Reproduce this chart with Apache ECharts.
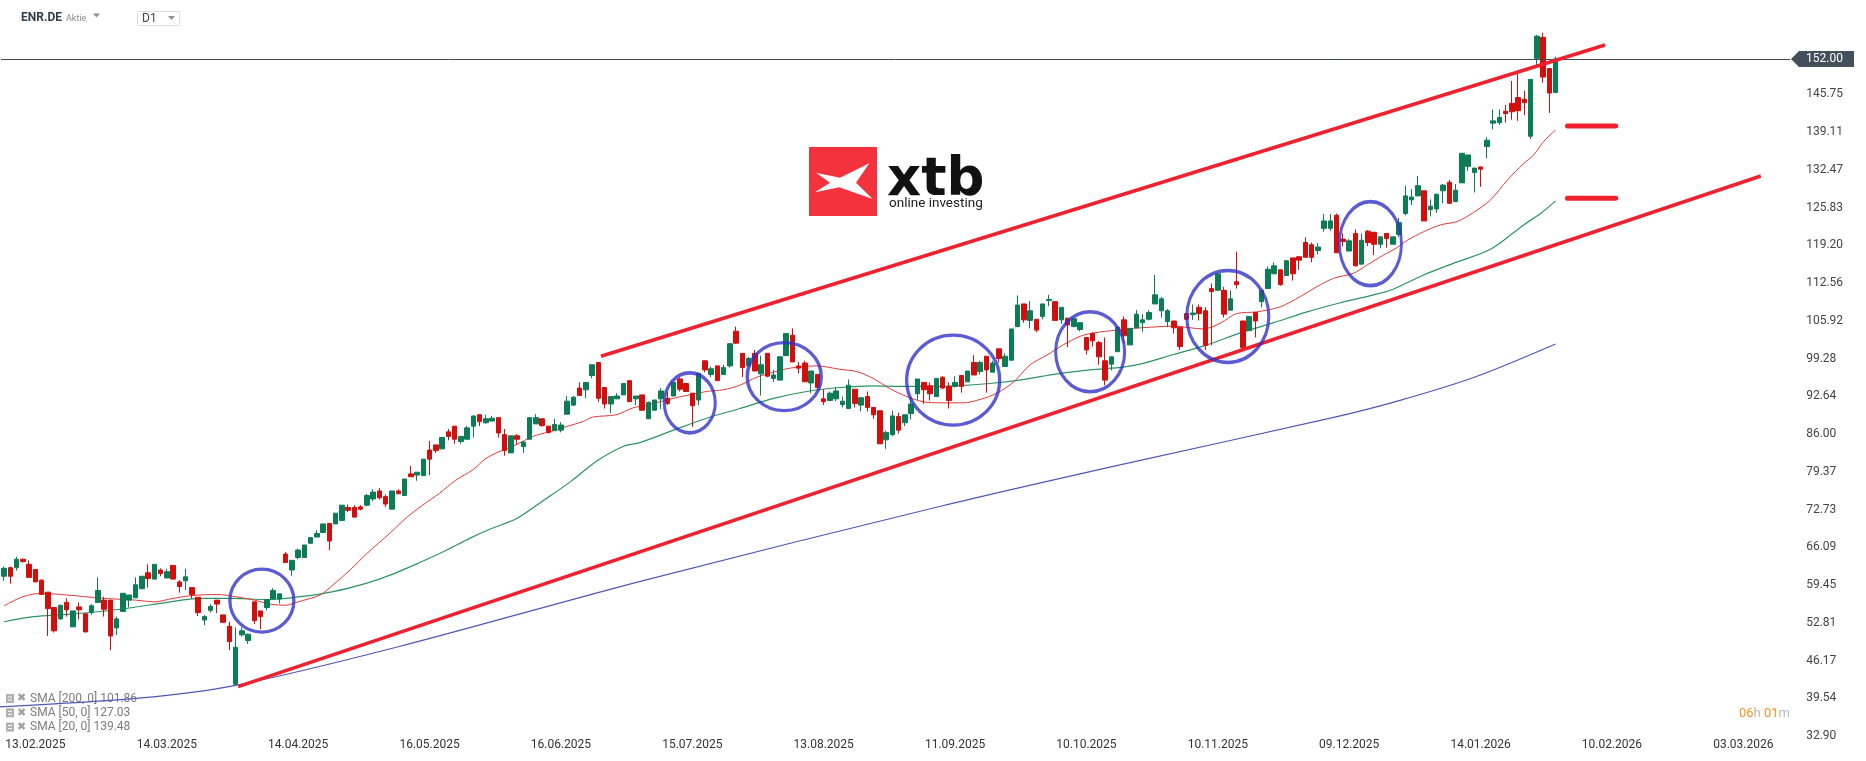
<!DOCTYPE html>
<html>
<head>
<meta charset="utf-8">
<title>ENR.DE D1</title>
<script src="https://cdn.jsdelivr.net/npm/echarts@6.0.0/dist/echarts.min.js"></script>
<style>
html, body { margin: 0; padding: 0; background: #fff; }
#chart { width: 1866px; height: 761px; }
</style>
</head>
<body>
<div id="chart"></div>
<script>
// daily candles, [open, high, low, close], first one is 06.02.2025
const candles = [
  [61.0,62.7,60.2,62.4],[62.5,62.7,59.7,61.0],[62.5,64.4,62.0,64.0],[64.0,64.1,63.4,63.6],[63.1,63.8,60.8,60.8],
  [62.2,62.2,60.0,60.0],[60.3,60.5,57.8,57.8],[58.2,58.2,50.5,55.3],[55.5,55.5,51.1,51.4],[53.5,55.9,53.3,55.9],
  [56.4,57.1,53.9,55.1],[52.1,54.9,52.1,54.9],[55.6,56.4,53.4,55.1],[54.4,54.4,51.2,51.2],[54.6,56.1,54.2,55.8],
  [56.4,60.8,56.4,58.5],[56.8,57.4,53.9,55.2],[56.8,56.8,48.0,50.5],[51.9,53.9,50.7,53.5],[54.8,58.0,54.8,58.0],
  [56.8,57.7,55.5,57.7],[57.2,60.8,57.2,59.5],[58.8,61.0,58.8,61.0],[61.6,63.1,59.0,60.6],[60.5,63.1,60.5,63.1],
  [62.1,62.4,61.0,61.5],[60.7,62.3,60.7,61.8],[62.9,62.9,60.5,60.5],[60.0,60.3,58.1,59.2],[60.2,62.3,58.6,60.9],
  [59.0,59.0,57.1,57.8],[57.3,57.3,54.0,54.6],[53.3,54.2,52.4,53.9],[55.0,56.1,54.6,55.7],[56.8,56.8,54.5,56.1],
  [54.2,54.2,52.8,52.9],[52.2,53.0,48.0,49.5],[42.0,52.0,41.9,48.5],[50.7,52.0,50.4,51.4],[49.7,50.9,49.1,50.8],
  [56.5,56.5,52.6,53.2],[54.9,54.9,51.7,53.9],[55.5,56.9,55.0,56.9],[57.0,58.9,57.0,58.5],[57.0,57.9,56.2,57.9],
  [64.9,65.3,63.4,63.4],[62.1,63.8,61.1,63.8],[64.3,65.9,64.0,65.6],[64.3,66.5,64.3,66.5],[66.8,67.9,66.8,67.8],
  [67.9,69.1,67.9,68.5],[68.7,70.2,68.7,70.2],[70.3,70.3,65.6,67.2],[70.2,72.1,70.2,72.1],[70.8,73.5,70.8,73.5],
  [73.1,73.6,72.3,72.6],[73.1,73.5,71.4,71.4],[73.2,73.5,72.6,72.8],[73.5,75.5,73.3,75.2],[74.6,76.3,74.2,75.8],
  [76.0,76.5,74.5,74.8],[75.0,75.4,73.2,73.7],[72.8,76.0,72.8,76.0],[76.0,76.3,75.5,75.5],[75.2,78.1,75.2,78.1],
  [79.0,80.4,78.5,78.5],[78.8,79.3,77.8,79.3],[78.7,81.6,78.7,81.6],[83.2,84.8,78.8,81.6],[84.1,84.1,82.7,83.1],
  [83.4,85.4,83.4,85.4],[86.4,86.9,84.9,85.6],[87.4,87.4,84.3,85.1],[84.7,85.7,84.3,85.6],[85.1,87.4,85.1,87.1],
  [87.4,89.2,85.4,89.2],[89.4,89.5,87.4,88.2],[88.0,89.4,87.8,88.7],[88.3,89.2,88.3,88.8],[88.9,88.9,85.4,86.2],
  [85.9,86.9,82.2,83.1],[82.7,85.7,82.7,85.7],[85.7,86.0,84.1,85.1],[83.8,84.6,82.7,84.6],[85.1,88.9,85.1,88.9],
  [87.8,89.5,87.8,88.9],[88.7,88.7,87.3,87.5],[87.4,87.4,86.1,86.3],[86.6,88.7,86.6,87.7],[86.7,88.1,86.3,87.6],
  [89.5,92.7,89.5,91.8],[91.1,92.7,90.9,92.5],[94.1,95.1,92.8,92.8],[93.8,95.1,92.3,95.1],[96.3,98.2,95.8,98.2],
  [98.6,98.6,91.7,92.3],[94.2,94.2,90.5,91.3],[91.3,92.6,89.7,92.6],[92.2,93.2,92.2,92.7],[92.9,94.9,92.9,94.9],
  [95.4,95.4,91.7,91.7],[92.2,92.7,91.1,92.7],[92.9,92.9,90.1,90.2],[88.7,91.7,88.7,91.6],[90.2,92.0,90.2,92.0],
  [92.2,94.1,90.4,93.6],[92.3,93.5,91.1,91.4],[92.7,95.2,92.7,95.1],[95.7,96.0,93.5,93.9],[94.9,94.9,93.5,93.5],
  [93.2,93.2,87.3,91.0],[92.0,96.7,91.1,96.7],[98.9,98.9,96.9,97.3],[96.5,97.9,96.0,97.5],[98.0,98.0,95.4,95.4],
  [96.5,98.2,96.5,97.7],[98.0,102.0,97.7,101.9],[104.1,104.9,101.9,102.0],[100.2,100.2,96.0,97.7],[98.0,99.6,97.9,99.3],
  [100.2,100.8,97.1,97.1],[96.6,99.8,92.8,98.2],[100.2,100.2,96.0,96.2],[95.8,97.3,95.2,96.4],[95.5,99.7,95.5,99.6],
  [99.8,103.8,99.8,103.7],[103.4,104.6,98.7,98.7],[98.0,98.7,96.7,97.6],[98.5,98.9,95.2,95.2],[95.0,97.1,93.2,97.1],
  [96.5,96.5,93.8,94.2],[92.2,93.9,91.1,91.7],[91.9,93.5,91.9,93.2],[92.2,94.3,91.8,93.6],[91.2,92.6,90.7,91.8],
  [90.5,95.6,90.5,94.6],[93.9,93.9,90.7,91.4],[91.1,92.4,90.0,92.4],[92.6,93.5,90.0,90.7],[90.7,90.7,88.7,89.4],
  [90.1,90.1,84.3,84.3],[85.0,86.6,83.4,86.3],[85.9,90.1,85.6,89.2],[89.1,89.8,86.1,86.7],[88.0,89.4,87.4,89.4],
  [89.6,92.5,88.6,91.3],[93.1,95.7,92.0,95.7],[95.1,95.1,91.3,93.8],[94.5,95.1,91.9,93.1],[92.6,95.8,92.6,95.8],
  [96.0,96.2,93.9,94.1],[94.4,95.1,90.5,91.9],[94.4,96.2,94.2,95.1],[96.3,96.3,93.3,94.4],[95.2,97.1,95.2,97.1],
  [98.6,99.9,96.4,96.4],[97.0,98.9,96.5,98.6],[99.7,99.7,93.3,97.3],[96.9,98.9,96.9,98.5],[101.0,101.0,98.6,99.3],
  [97.9,100.2,97.9,99.7],[99.0,104.5,99.0,104.5],[104.9,110.4,104.9,108.7],[108.9,108.9,105.6,106.1],[106.0,109.4,104.6,107.7],
  [106.2,106.2,103.9,104.3],[106.7,108.9,106.2,108.9],[109.5,110.5,108.5,109.7],[109.3,109.3,106.0,106.0],[106.1,108.3,105.4,108.3],
  [106.4,106.4,101.3,105.2],[104.9,106.4,104.9,106.3],[104.4,105.6,104.1,105.6],[103.0,103.0,100.0,100.8],[103.7,103.9,101.4,102.4],
  [102.1,102.4,98.2,99.6],[98.9,103.0,94.6,95.5],[98.3,99.6,97.2,99.6],[100.5,104.8,100.5,104.8],[106.1,106.7,102.0,103.3],
  [101.7,104.6,101.7,104.6],[104.7,107.8,104.7,107.1],[105.6,107.1,104.0,106.1],[106.2,107.8,106.0,107.4],[108.9,114.0,108.9,110.5],
  [107.7,110.1,106.5,109.8],[105.8,108.0,104.8,107.7],[105.9,105.9,103.7,104.7],[104.8,104.8,100.8,101.4],[107.2,107.2,106.2,106.2],
  [107.0,108.8,106.1,107.3],[108.3,108.8,106.0,107.2],[107.7,108.3,100.8,101.6],[111.6,112.5,101.6,111.1],[111.3,114.2,111.3,114.2],
  [111.3,111.9,106.5,107.1],[107.8,111.3,107.8,109.8],[112.8,118.1,111.6,112.3],[105.9,105.9,101.0,101.2],[104.2,106.7,104.2,106.7],
  [107.4,107.4,103.0,105.9],[109.3,111.3,108.3,111.3],[111.6,115.5,111.6,115.0],[114.2,116.2,114.2,115.6],[114.9,114.9,112.1,112.3],
  [113.9,116.5,113.9,116.5],[117.0,117.0,113.0,114.2],[117.2,117.2,114.9,116.6],[119.7,120.6,117.1,117.1],[119.3,119.7,116.2,117.1],
  [118.3,119.6,117.6,118.9],[122.2,124.7,121.6,123.5],[122.2,124.7,121.7,123.5],[124.5,124.8,117.9,117.9],[120.3,121.3,119.0,119.9],
  [118.2,120.3,118.2,120.0],[121.3,122.0,115.5,115.6],[115.9,121.3,115.9,120.1],[121.7,121.9,119.1,119.7],[121.5,121.5,117.5,119.4],
  [119.4,120.7,118.7,120.7],[121.3,121.3,118.8,120.4],[119.4,120.7,119.4,120.7],[121.1,124.0,120.7,123.2],[124.8,129.7,124.5,127.9],
  [127.2,129.1,126.3,127.7],[127.9,131.4,127.9,129.7],[128.8,128.8,123.5,123.5],[125.5,127.3,124.3,126.1],[125.6,128.2,124.9,128.2],
  [128.8,130.0,126.6,129.8],[130.3,130.7,126.6,126.6],[126.9,130.0,126.8,128.9],[130.2,135.4,130.2,135.4],[133.1,135.1,132.3,135.1],
  [132.0,132.8,128.5,132.8],[133.0,133.0,129.5,132.6],[136.6,138.2,134.5,137.7],[140.7,143.1,139.6,141.1],[140.8,143.1,140.4,141.7],
  [142.8,143.9,140.8,142.4],[144.2,148.1,141.3,142.7],[145.2,149.6,141.1,142.9],[144.9,146.4,142.1,144.3],[138.4,148.4,137.9,148.4],
  [152.1,156.2,150.9,156.0],[155.8,156.6,147.8,148.8],[150.3,150.3,142.5,146.0],[146.1,152.4,146.1,152.0]
];

const lastPrice = 152.00;

// moving averages as [candle index, value]
const sma20 = [[0,55.8],[3,57.4],[6,58.0],[10,57.7],[13,57.4],[16,57.1],[21,56.8],[24,56.5],[27,57.1],[30,57.6],
  [34,57.8],[37,57.4],[40,56.8],[42.5,56.1],[45,55.9],[47,56.5],[50.5,57.7],[52.6,59.5],[55.3,62.1],[58,65.0],
  [61.7,68.6],[64.3,71.3],[66.9,73.5],[69.6,75.6],[72.2,77.9],[74.9,79.7],[77,81.7],[79.1,82.9],[81.8,84.1],
  [84.5,85.6],[87.1,86.4],[89.8,87.3],[92.5,88.2],[94.1,89.0],[97.8,89.4],[100.5,90.6],[103.1,91.2],[107,92.3],
  [112.3,93.5],[115,93.8],[117.6,94.6],[120.3,96.0],[123,96.9],[125.6,97.6],[129.9,98.0],[133.6,97.4],[136.3,97.0],
  [138.9,95.8],[141.6,94.0],[144.3,92.6],[146.9,91.7],[149.6,91.5],[153.4,91.5],[156,92.1],[158.7,93.2],[161.4,95.2],
  [164,98.2],[166.7,99.9],[169.3,101.7],[172,103.2],[174.2,103.8],[177.9,104.3],[180.5,104.6],[183.2,104.8],
  [186.9,105.0],[191.7,104.5],[194.4,105.5],[197,107.2],[200.2,107.5],[204,108.4],[207.2,110.2],[209.8,111.9],
  [212.5,113.4],[215.7,114.3],[217.8,115.7],[220.5,117.5],[222.5,118.7],[224.3,120.1],[226.9,121.6],[229.6,122.8],
  [232.3,123.4],[234.9,125.0],[237.6,127.2],[240.3,130.7],[242.9,133.6],[244.5,135.1],[246.1,137.5],[248,139.48]];
const sma50 = [[0,53.0],[4.7,53.9],[10,54.3],[15.4,54.8],[20.6,55.5],[26,56.4],[31.3,57.1],[36.6,57.1],[42,56.9],
  [47.3,57.4],[52.6,58.3],[58,59.8],[61.7,61.2],[66,63.2],[70.2,65.3],[74.5,67.7],[77.7,69.3],[82,71.2],[86.3,74.4],
  [90.5,77.6],[94.8,81.3],[99.1,83.9],[101.6,84.5],[107,86.7],[112.3,88.8],[117.6,90.5],[123,92.3],[128.3,93.5],
  [133.6,94.2],[138.9,94.5],[143.2,94.4],[146.9,94.4],[152.3,94.5],[157.6,94.9],[162.9,95.6],[168.3,96.6],
  [173.6,97.3],[178.9,97.8],[181.6,98.3],[186.9,100.0],[192.3,101.7],[197.6,103.8],[202.9,105.6],[208.3,107.5],
  [213.6,109.1],[218.9,110.5],[221.6,111.3],[226.9,114.0],[232.3,116.3],[237.6,118.5],[242.9,122.8],[245.6,124.8],
  [248,127.03]];
const sma200 = [[-1,38.0],[22,39.6],[37,41.8],[63,48.6],[102,60.2],[150,73.4],[180,81.0],[212,88.8],[223,91.9],
  [235,96.0],[248,101.86]];

const smaLegend = ['SMA [200, 0] 101.86', 'SMA [50, 0] 127.03', 'SMA [20, 0] 139.48'];

// hand-drawn channel, target marks and circles
const upperTrend = [[95.4, 99.7], [255.9, 154.45]];
const lowerTrend = [[37.4, 41.6], [280.8, 131.4]];
const targetLevels = [140.2, 127.5];
const targetSpan = [249.9, 257.6];
const circleCenters = [[41.2,56.7],[109.6,91.5],[124.7,96.1],[151.7,95.5],[173.6,100.5],[195.6,106.7],[218.4,119.5]];
const circleSizes = [[64,63],[51,60],[74,68],[93,90],[69,80],[82,92],[62,84]];

const xTickLabels = ['13.02.2025','14.03.2025','14.04.2025','16.05.2025','16.06.2025','15.07.2025','13.08.2025',
  '11.09.2025','10.10.2025','10.11.2025','09.12.2025','14.01.2026','10.02.2026','03.03.2026'];
const yTickLabels = ['32.90','39.54','46.17','52.81','59.45','66.09','72.73','79.37','86.00','92.64','99.28',
  '105.92','112.56','119.20','125.83','132.47','139.11','145.75'];

const SLOTS = 286;        // visible candle slots incl. empty future area
const FIRST_LABEL = 5;    // slot of the first date label
const LABEL_STEP = 21;

const UP = '#0b7d56', DOWN = '#d40d0d', TREND = '#f0212e';

const categories = Array.from({ length: SLOTS }, (_, i) => {
  const k = (i - FIRST_LABEL) / LABEL_STEP;
  return (i >= FIRST_LABEL && Number.isInteger(k) && xTickLabels[k]) ? xTickLabels[k] : '';
});

const chart = echarts.init(document.getElementById('chart'));

const smaSeries = (data, color, width) => ({
  type: 'line', xAxisIndex: 1, data, smooth: 0.3, showSymbol: false, silent: true, z: 1,
  lineStyle: { color, width }
});
const trendSeries = data => ({
  type: 'line', xAxisIndex: 1, data, showSymbol: false, silent: true, z: 5,
  lineStyle: { color: TREND, width: 3.5 }
});

chart.setOption({
  animation: false,
  backgroundColor: '#fff',
  grid: { left: 1, right: 75.8, top: 0, bottom: 25 },
  xAxis: [{
    type: 'category',
    data: categories,
    boundaryGap: true,
    axisLine: { show: false },
    axisTick: { show: false },
    splitLine: { show: false },
    axisLabel: { interval: 0, margin: 3, color: '#333', fontSize: 12, fontFamily: 'Roboto' }
  }, {
    type: 'value', min: -0.5, max: SLOTS - 0.5, show: false
  }],
  yAxis: {
    type: 'value',
    position: 'right',
    min: 32.90,
    max: 162.36,
    interval: 6.638,
    axisLine: { show: false },
    axisTick: { show: false },
    splitLine: { show: false },
    axisLabel: {
      margin: 16, color: '#444', fontSize: 12, fontFamily: 'Roboto',
      formatter: v => yTickLabels.find(t => Math.abs(parseFloat(t) - v) < 0.05) || ''
    }
  },
  series: [
    smaSeries(sma200, '#4f58b8', 1.2),
    smaSeries(sma50, '#2b9467', 1.2),
    smaSeries(sma20, '#e23a3a', 1),
    {
      type: 'candlestick',
      data: candles.map(c => [c[0], c[3], c[2], c[1]]),
      barWidth: 5,
      z: 3,
      itemStyle: { color: UP, color0: DOWN, borderColor: UP, borderColor0: DOWN, borderWidth: 1 },
      markLine: {
        silent: true, symbol: ['none', 'none'], label: { show: false },
        lineStyle: { color: '#3f4d59', width: 1, type: 'solid' },
        data: [{ yAxis: lastPrice }]
      }
    },
    trendSeries(upperTrend),
    trendSeries(lowerTrend),
    ...targetLevels.map(v => ({
      type: 'line', xAxisIndex: 1, showSymbol: false, silent: true, z: 5,
      data: [[targetSpan[0], v], [targetSpan[1], v]],
      lineStyle: { color: TREND, width: 5, cap: 'round' }
    })),
    {
      type: 'scatter', xAxisIndex: 1, silent: true, z: 6,
      data: circleCenters.map((c, i) => ({ value: c, symbolSize: circleSizes[i] })),
      symbol: 'circle',
      itemStyle: { color: 'rgba(0,0,0,0)', borderColor: '#3232c8', borderWidth: 3.3 }
    }
  ]
});

// chrome: header, logo, price tag, timer, indicator list
const py = chart.convertToPixel({ yAxisIndex: 0 }, lastPrice);
const tri = (x, y, w, h, fill) => ({ type: 'polygon', shape: { points: [[x, y], [x + w, y], [x + w / 2, y + h]] }, style: { fill } });

const legendRows = smaLegend.map((t, i) => {
  const y = 698.5 + i * 14.3;
  return {
    type: 'group', children: [
      { type: 'rect', shape: { x: 6, y: y - 4.5, width: 8, height: 9 }, style: { fill: '#b0b0b0' } },
      { type: 'rect', shape: { x: 8, y: y - 2, width: 4, height: 1 }, style: { fill: '#fff' } },
      { type: 'rect', shape: { x: 8, y: y + 1, width: 4, height: 1 }, style: { fill: '#fff' } },
      { type: 'text', style: { text: '✖', x: 17, y, fill: '#a0a0a0', fontSize: 11, fontFamily: 'DejaVu Sans', verticalAlign: 'middle' } },
      { type: 'text', style: { text: t, x: 30, y, fill: '#7c7c7c', fontSize: 12, fontFamily: 'Roboto', verticalAlign: 'middle' } }
    ]
  };
});

chart.setOption({
  graphic: [
    { type: 'text', style: { text: 'ENR.DE', x: 21, y: 18, fill: '#2f3e4c', fontSize: 12, fontWeight: 'bold', fontFamily: 'Roboto', verticalAlign: 'middle' } },
    { type: 'text', style: { text: 'Aktie', x: 66, y: 19, fill: '#8a8a8a', fontSize: 9, fontFamily: 'Roboto', verticalAlign: 'middle' } },
    tri(93, 13.5, 7, 4, '#8f8f8f'),
    { type: 'rect', shape: { x: 137.5, y: 11.5, width: 42, height: 14, r: 1 }, style: { fill: '#fff', stroke: '#dcdcdc', lineWidth: 1 } },
    { type: 'text', style: { text: 'D1', x: 142, y: 19, fill: '#444', fontSize: 12, fontFamily: 'Roboto', verticalAlign: 'middle' } },
    tri(168, 16, 7, 4, '#8f8f8f'),

    { type: 'rect', shape: { x: 809, y: 147, width: 68, height: 69 }, style: { fill: '#f4323e' } },
    { type: 'polygon', shape: { points: [[816, 172.7], [840, 177.7], [869.3, 163.3], [856, 182.7], [872.7, 199], [839.3, 187.3], [815, 192.3], [830, 182.7]] }, style: { fill: '#fff' } },
    { type: 'text', style: { text: 'xtb', x: 887, y: 181, fill: '#111', fontSize: 53, fontWeight: 'bold', fontFamily: 'DejaVu Sans', verticalAlign: 'middle' } },
    { type: 'text', style: { text: 'online investing', x: 889, y: 203.5, fill: '#222', fontSize: 13.5, fontFamily: 'Roboto', verticalAlign: 'middle' } },

    { type: 'polygon', shape: { points: [[1791, py], [1799, py - 8], [1854, py - 8], [1854, py + 8], [1799, py + 8]] }, style: { fill: '#43505c' } },
    { type: 'text', style: { text: lastPrice.toFixed(2), x: 1806, y: py, fill: '#fff', fontSize: 12, fontFamily: 'Roboto', verticalAlign: 'middle' } },

    { type: 'text', style: {
      text: '{o|06}{g|h }{o|01}{g|m}', x: 1739, y: 714, verticalAlign: 'middle',
      rich: { o: { fill: '#f7931e', fontSize: 13, fontFamily: 'Roboto' }, g: { fill: '#b8b8b8', fontSize: 13, fontFamily: 'Roboto' } }
    } },
    ...legendRows
  ]
});

window.addEventListener('resize', () => chart.resize());
</script>
</body>
</html>
